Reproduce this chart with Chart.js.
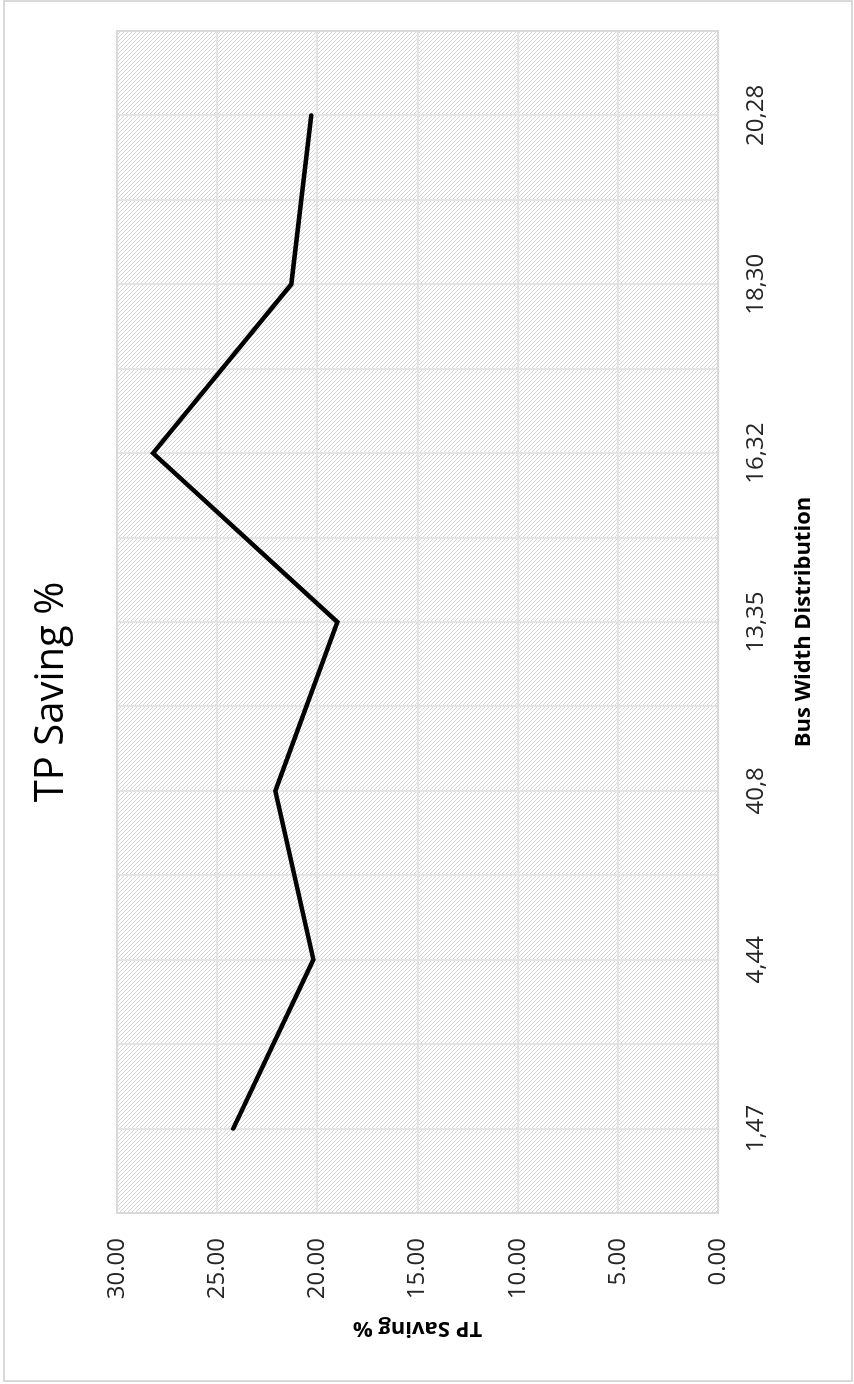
<!DOCTYPE html>
<html>
<head>
<meta charset="utf-8">
<script src="https://cdn.jsdelivr.net/npm/chart.js@4/dist/chart.umd.min.js"></script>
<style>
  html, body { margin: 0; padding: 0; background: #fff; overflow: hidden; width: 854px; height: 1384px; }
  /* the chart is laid out landscape and turned a quarter turn to stand upright on the page */
  #wrap { position: absolute; left: 0; top: 0; width: 1384px; height: 854px;
          transform-origin: 0 0; transform: translate(0, 1384px) rotate(-90deg); }
  #frame { position: absolute; left: 3px; top: 0; width: 850px; height: 1382px;
           box-sizing: border-box; border: 2px solid #d9d9d9; pointer-events: none; }
</style>
</head>
<body>
<div id="wrap"><canvas id="c"></canvas></div>
<div id="frame"></div>
<script>
// Bus width distributions and the throughput saving measured for each
const categories = ['1,47', '4,44', '40,8', '13,35', '16,32', '18,30', '20,28'];
const tpSaving = [24.2, 20.2, 22.1, 19.0, 28.2, 21.3, 20.3];
const valueTicks = [0, 5, 10, 15, 20, 25, 30];

const chartTitle = 'TP Saving %';
const xTitle = 'Bus Width Distribution';
const yTitle = 'TP Saving %';

// diagonal hatch used as the plot-area fill
function makeHatch() {
  const t = document.createElement('canvas');
  t.width = 4; t.height = 4;
  const g = t.getContext('2d');
  g.fillStyle = '#ffffff';
  g.fillRect(0, 0, 4, 4);
  g.fillStyle = '#d4d4d4';
  for (let i = 0; i < 4; i++) g.fillRect(i, i, 1, 1);
  return g.createPattern(t, 'repeat');
}
const hatch = makeHatch();

const plotBackdrop = {
  id: 'plotBackdrop',
  beforeDraw(chart) {
    const { ctx, chartArea: a } = chart;
    ctx.save();
    ctx.fillStyle = hatch;
    ctx.fillRect(a.left, a.top, a.right - a.left, a.bottom - a.top);
    ctx.restore();
  },
  beforeDatasetsDraw(chart) {
    const { ctx, chartArea: a } = chart;
    ctx.save();
    ctx.strokeStyle = '#d9d9d9';
    ctx.lineWidth = 2;
    ctx.strokeRect(a.left, a.top, a.right - a.left, a.bottom - a.top);
    ctx.restore();
  }
};

const tickFont = { family: '"Open Sans", sans-serif', size: 24 };
const axisTitleFont = { family: '"Open Sans", sans-serif', size: 22, weight: 'bold' };
const gridColor = '#e4e4e4';

new Chart(document.getElementById('c'), {
  type: 'line',
  data: {
    labels: categories,
    datasets: [{
      label: yTitle,
      data: tpSaving,
      borderColor: '#000000',
      borderWidth: 4.5,
      borderJoinStyle: 'miter',
      borderCapStyle: 'round',
      pointRadius: 0,
      pointHoverRadius: 0,
      tension: 0,
      fill: false
    }]
  },
  options: {
    responsive: true,
    maintainAspectRatio: false,
    animation: false,
    events: [],
    layout: { padding: 0 },
    plugins: {
      legend: { display: false },
      tooltip: { enabled: false },
      title: {
        display: true,
        text: chartTitle,
        color: '#000000',
        font: { family: '"Open Sans", sans-serif', size: 40, weight: 'normal' },
        padding: { top: 28, bottom: 41 }
      }
    },
    scales: {
      x: {
        type: 'category',
        position: 'bottom',
        offset: true,
        grid: { display: true, offset: true, color: gridColor, lineWidth: 2, drawTicks: false },
        border: { display: false },
        ticks: { color: '#262626', font: tickFont, padding: 24, maxRotation: 0, autoSkip: false },
        title: { display: true, text: xTitle, color: '#000000', font: axisTitleFont, padding: { top: 0, bottom: 37 } },
        afterFit(s) { s.height = 136; }
      },
      x2: {
        type: 'category',
        position: 'bottom',
        labels: categories,
        offset: true,
        grid: { display: true, offset: false, color: gridColor, lineWidth: 2, drawTicks: false },
        border: { display: false },
        ticks: { display: false },
        afterFit(s) { s.height = 0; }
      },
      y: {
        type: 'linear',
        position: 'left',
        min: 0,
        max: 30,
        afterBuildTicks(s) { s.ticks = valueTicks.map(v => ({ value: v })); },
        grid: { color: gridColor, lineWidth: 2, drawTicks: false },
        border: { display: false },
        ticks: { color: '#262626', font: tickFont, padding: 25, callback: v => Number(v).toFixed(2) },
        title: { display: true, text: yTitle, color: '#000000', font: axisTitleFont, padding: { top: 43, bottom: 0 } },
        afterFit(s) { s.width = 171; }
      },
      // empty margin on the far side of the plot, so the chart title stays centred on the whole canvas
      yMargin: {
        type: 'linear',
        position: 'right',
        min: 0,
        max: 30,
        grid: { display: false, drawTicks: false },
        border: { display: false },
        ticks: { display: false },
        afterFit(s) { s.width = 31; }
      }
    }
  },
  plugins: [plotBackdrop]
});
</script>
</body>
</html>
